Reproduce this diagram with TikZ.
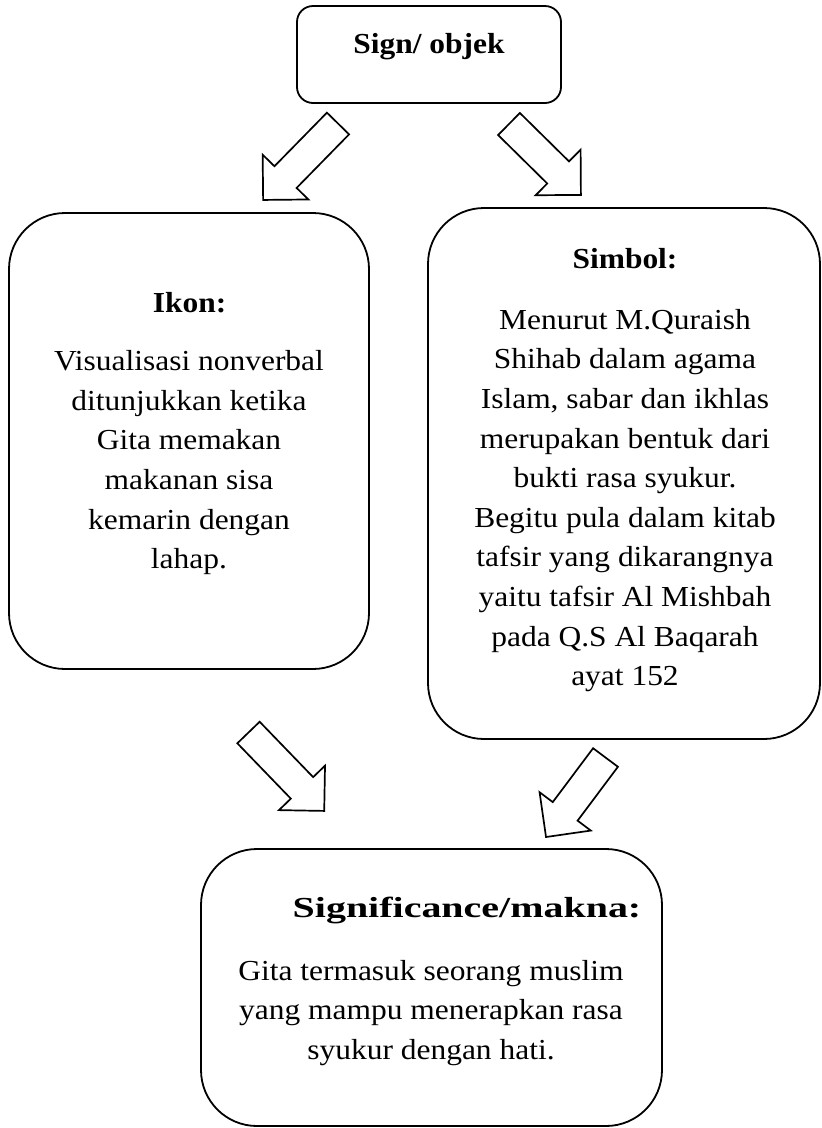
\documentclass[tikz,border=0pt]{standalone}
\usepackage{fontspec}
\setmainfont{Liberation Serif}[FakeStretch=1.085]
\usetikzlibrary{calc}
\newcommand\bodyfont{\fontsize{29}{39.6}\selectfont}
\newcommand\titlefont{\fontsize{29}{39.6}\selectfont\bfseries}
\newcommand\textlines[1]{\vtop{\hsize=500pt\parindent=0pt\centering #1\par}}
\newcommand\blockarrow[3]{% #1 tail coordinate, #2 angle, #3 length
  \draw[blockarr, shift={(#1)}, rotate=#2]
    (0,-15.5) -- ({#3-32},-15.5) -- ({#3-32},-32) -- (#3,0)
    -- ({#3-32},32) -- ({#3-32},15.5) -- (0,15.5) -- cycle;}
\tikzset{
  box/.style={draw=black, line width=1.8pt, fill=white},
  blockarr/.style={draw=black, line width=1.7pt, fill=white, line join=miter},
  label/.style={inner sep=0pt, anchor=base, text=black},
}
\begin{document}
\begin{tikzpicture}[x=1pt, y=1pt]
\useasboundingbox (0,0) rectangle (822,-1128);
\fill[white] (0,0) rectangle (822,-1128);

% boxes
\draw[box, rounded corners=16pt] (297,-6) rectangle (561,-103);
\coordinate (sign) at (429,-54);
\draw[box, rounded corners=56pt] (9,-213) rectangle (369,-669);
\coordinate (ikon) at (189,-441);
\draw[box, rounded corners=56pt] (428,-208) rectangle (820,-739);
\coordinate (simbol) at (624,-473);
\draw[box, rounded corners=56pt] (201,-849) rectangle (662,-1126);
\coordinate (makna) at (431,-988);

% texts
\node[label, font=\titlefont] (signtxt) at (429,-53.3) {Sign/ objek};

\node[label, font=\titlefont] (ikontitle) at (189.7,-312) {Ikon:};
\node[label, font=\bodyfont] (ikontxt) at (189,-370.7) {\textlines{Visualisasi nonverbal\\ ditunjukkan ketika\\ Gita memakan\\ makanan sisa\\ kemarin dengan\\ lahap.}};

\node[label, font=\titlefont] (simboltitle) at (625,-268) {Simbol:};
\node[label, font=\bodyfont] (simboltxt) at (625,-329.3) {\textlines{Menurut M.Quraish\\ Shihab dalam agama\\ Islam, sabar dan ikhlas\\ merupakan bentuk dari\\ bukti rasa syukur.\\ Begitu pula dalam kitab\\ tafsir yang dikarangnya\\ yaitu tafsir Al Mishbah\\ pada Q.S Al Baqarah\\ ayat 152}};

\node[label, font=\titlefont] (maknatitle) at (467,-917.3) {\scalebox{1.27}[1]{Significance/makna:}};
\node[label, font=\bodyfont] (maknatxt) at (431,-980.1) {\textlines{Gita termasuk seorang muslim\\ yang mampu menerapkan rasa\\ syukur dengan hati.}};

% block arrows
\coordinate (a1) at (338,-123.5);
\coordinate (a2) at (509,-124);
\coordinate (a3) at (248.5,-732.5);
\coordinate (a4) at (605.5,-757.5);
\blockarrow{a1}{225.6}{107}
\blockarrow{a2}{-44.6}{101}
\blockarrow{a3}{-46}{109}
\blockarrow{a4}{233.2}{99.3}
\end{tikzpicture}
\end{document}
